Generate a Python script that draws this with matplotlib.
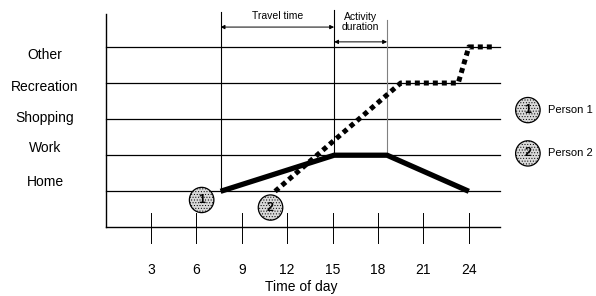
import matplotlib
matplotlib.use('Agg')
import matplotlib.pyplot as plt
from matplotlib.patches import Ellipse

plt.rcParams['font.family'] = ['Liberation Sans', 'DejaVu Sans']
plt.rcParams['hatch.linewidth'] = 0.4

# data
activities = ['Home', 'Work', 'Shopping', 'Recreation', 'Other']
levels = [1, 2, 3, 4, 5]
hour_ticks = [3, 6, 9, 12, 15, 18, 21, 24]

p1_time = [7.6, 15.1, 18.6, 24.0]
p1_act = [1, 2, 2, 1]
p2_time = [11.2, 19.5, 23.3, 24.0, 25.7]
p2_act = [1, 4, 4, 5, 5]

travel_start, travel_end = 7.6, 15.1
act_start, act_end = 15.1, 18.6

fig = plt.figure(figsize=(5.96, 2.96), dpi=100)
ax = fig.add_axes([0, 0, 1, 1])
ax.set_xlim(-6.97, 32.4)
ax.set_ylim(-1.90, 6.30)
ax.axis('off')

x_end = 26.05
# axis and grid lines
ax.plot([0, 0], [0, 5.9], color='black', lw=1.0)
ax.plot([0, x_end], [0, 0], color='black', lw=1.0)
for lv in levels:
    ax.plot([0, x_end], [lv, lv], color='black', lw=0.9)

# x ticks
for h in hour_ticks:
    ax.plot([h, h], [0.40, -0.43], color='black', lw=0.7)
    ax.text(h, -1.18, str(h), ha='center', va='center', fontsize=10)
ax.text(12.9, -1.66, 'Time of day', ha='center', va='center', fontsize=10)

# y labels
label_y = [1.26, 2.20, 3.03, 3.89, 4.78]
for name, yy in zip(activities, label_y):
    ax.text(-4.0, yy, name, ha='center', va='center', fontsize=10)

# vertical marker lines
ax.plot([travel_start, travel_start], [1, 5.97], color='black', lw=0.8)
ax.plot([travel_end, travel_end], [2, 6.02], color='black', lw=0.8)
ax.plot([act_end, act_end], [2, 5.75], color='gray', lw=0.8)

# annotations
ax.annotate('', xy=(travel_start, 5.55), xytext=(travel_end, 5.55),
            arrowprops=dict(arrowstyle='<|-|>', color='black', lw=0.7,
                            mutation_scale=6, shrinkA=0, shrinkB=0))
ax.text((travel_start + travel_end) / 2, 5.85, 'Travel time', ha='center',
        va='center', fontsize=7.5)
ax.annotate('', xy=(act_start, 5.14), xytext=(act_end, 5.14),
            arrowprops=dict(arrowstyle='<|-|>', color='black', lw=0.7,
                            mutation_scale=6, shrinkA=0, shrinkB=0))
ax.text((act_start + act_end) / 2, 5.68, 'Activity\nduration', ha='center',
        va='center', fontsize=7.5, linespacing=1.0)

# person paths
ax.plot(p1_time, p1_act, color='black', lw=3.8, solid_capstyle='butt',
        solid_joinstyle='miter', zorder=3)
ax.plot(p2_time, p2_act, color='black', lw=3.6, linestyle=(0, (1, 0.8)),
        dash_capstyle='butt', zorder=3)


def badge(x, y, s):
    e = Ellipse((x, y), 1.62, 0.70, facecolor='#d9d9d9', edgecolor='black',
                lw=0.9, hatch='......', zorder=4)
    ax.add_patch(e)
    ax.text(x, y, s, ha='center', va='center', fontsize=9, fontweight='bold',
            zorder=5)


badge(6.35, 0.76, '1')
badge(10.9, 0.55, '2')
badge(27.9, 3.25, '1')
badge(27.9, 2.05, '2')
ax.text(29.2, 3.25, 'Person 1', ha='left', va='center', fontsize=8)
ax.text(29.2, 2.05, 'Person 2', ha='left', va='center', fontsize=8)

fig.savefig('out.png', dpi=100)
